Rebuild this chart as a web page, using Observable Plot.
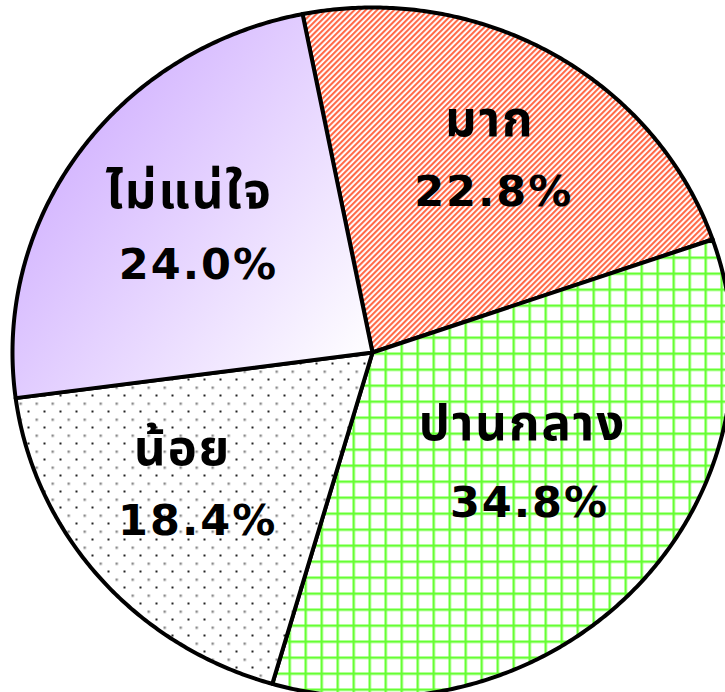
<!DOCTYPE html>
<html>
<head>
<meta charset="utf-8">
<script src="https://cdn.jsdelivr.net/npm/d3@7"></script>
<script src="https://cdn.jsdelivr.net/npm/@observablehq/plot@0.6"></script>
<style>
  html, body { margin: 0; padding: 0; background: #fff; overflow: hidden; }
  svg text { letter-spacing: 2px; }
</style>
</head>
<body>
<div id="chart"></div>
<script>
// ---- data ----
const categories = ["มาก", "ปานกลาง", "น้อย", "ไม่แน่ใจ"];
const values = [22.8, 34.8, 18.4, 24.0];
const valueLabels = ["22.8%", "34.8%", "18.4%", "24.0%"];

// ---- layout / style (not data) ----
const startDeg = -11.2;
const fills = ["url(#stripes)", "url(#grid)", "url(#dots)", "url(#purple)"];
// percent-label anchor (radius fraction, angle nudge in degrees) and name offset in px
const labelLayout = [
  {r: 0.543, da: 8.5,  ndx: -4,  ndy: -70},
  {r: 0.647, da: 4.1,  ndx: -7,  ndy: -77},
  {r: 0.719, da: -6.8, ndx: -15, ndy: -70},
  {r: 0.529, da: -11.7, ndx: -9, ndy: -71}
];

const toRad = Math.PI / 180;
const pie = d3.pie().sort(null).value(d => d.value)
  .startAngle(startDeg * toRad).endAngle((startDeg + 360) * toRad);
const arcs = pie(categories.map((c, i) => ({cat: c, value: values[i], label: valueLabels[i]})));

// polygon outlines of the slices in unit-circle coordinates (angle clockwise from top)
const slices = arcs.map(a => {
  const pts = [{x: 0, y: 0}];
  const n = Math.max(8, Math.ceil((a.endAngle - a.startAngle) / (0.5 * toRad)));
  for (let k = 0; k <= n; k++) {
    const t = a.startAngle + (a.endAngle - a.startAngle) * k / n;
    pts.push({x: Math.sin(t), y: Math.cos(t)});
  }
  return pts;
});

const labels = arcs.map((a, i) => {
  const L = labelLayout[i];
  const m = (a.startAngle + a.endAngle) / 2 + L.da * toRad;
  return {x: L.r * Math.sin(m), y: L.r * Math.cos(m), name: a.data.cat, pct: a.data.label, ndx: L.ndx, ndy: L.ndy};
});

const font = "'DejaVu Sans', 'Noto Sans Thai', Loma, Garuda, 'Noto Sans', sans-serif";

const chart = Plot.plot({
  width: 725,
  height: 692,
  margin: 0,
  x: {domain: [-1, 1], range: [12, 732], axis: null},
  y: {domain: [-1, 1], range: [697, 7], axis: null},
  marks: [
    ...slices.map((pts, i) => Plot.line(pts, {
      x: "x", y: "y", curve: "linear-closed",
      fill: fills[i], stroke: "#000", strokeWidth: 4, strokeLinejoin: "round"
    })),
    Plot.text(labels, {
      x: "x", y: "y", text: "pct", lineAnchor: "bottom",
      fontSize: 43, fontWeight: "bold", fontFamily: font,
      fill: "#000", textAnchor: "middle"
    }),
    ...labels.map(l => Plot.text([l], {
      x: "x", y: "y", text: "name", lineAnchor: "bottom",
      dx: l.ndx, dy: l.ndy,
      fontSize: 49, fontWeight: "bold", fontFamily: font,
      fill: "#000", textAnchor: "middle"
    }))
  ]
});

// pattern / gradient definitions
const svg = d3.select(chart);
const defs = svg.insert("defs", ":first-child");

const st = defs.append("pattern").attr("id", "stripes")
  .attr("patternUnits", "userSpaceOnUse").attr("width", 4).attr("height", 4)
  .attr("patternTransform", "rotate(45)");
st.append("rect").attr("width", 4).attr("height", 4).attr("fill", "#fff");
st.append("rect").attr("width", 2.1).attr("height", 4).attr("fill", "#ff6a48");

const gr = defs.append("pattern").attr("id", "grid")
  .attr("patternUnits", "userSpaceOnUse").attr("width", 16).attr("height", 16);
gr.append("rect").attr("width", 16).attr("height", 16).attr("fill", "#fff");
gr.append("rect").attr("x", 0).attr("y", 0).attr("width", 2.4).attr("height", 16).attr("fill", "#66ff33");
gr.append("rect").attr("x", 0).attr("y", 0).attr("width", 16).attr("height", 2.4).attr("fill", "#66ff33");

const dt = defs.append("pattern").attr("id", "dots")
  .attr("patternUnits", "userSpaceOnUse").attr("width", 16).attr("height", 16);
dt.append("rect").attr("width", 16).attr("height", 16).attr("fill", "#fff");
dt.append("rect").attr("x", 3).attr("y", 2).attr("width", 2.4).attr("height", 2.4).attr("fill", "#8a8a8a");
dt.append("rect").attr("x", 11).attr("y", 10).attr("width", 2).attr("height", 2).attr("fill", "#222");

const lg = defs.append("linearGradient").attr("id", "purple")
  .attr("x1", "0").attr("y1", "0.1").attr("x2", "1").attr("y2", "0.9");
lg.append("stop").attr("offset", "0").attr("stop-color", "#c9a3ff");
lg.append("stop").attr("offset", "1").attr("stop-color", "#ffffff");

document.getElementById("chart").appendChild(chart);
</script>
</body>
</html>
